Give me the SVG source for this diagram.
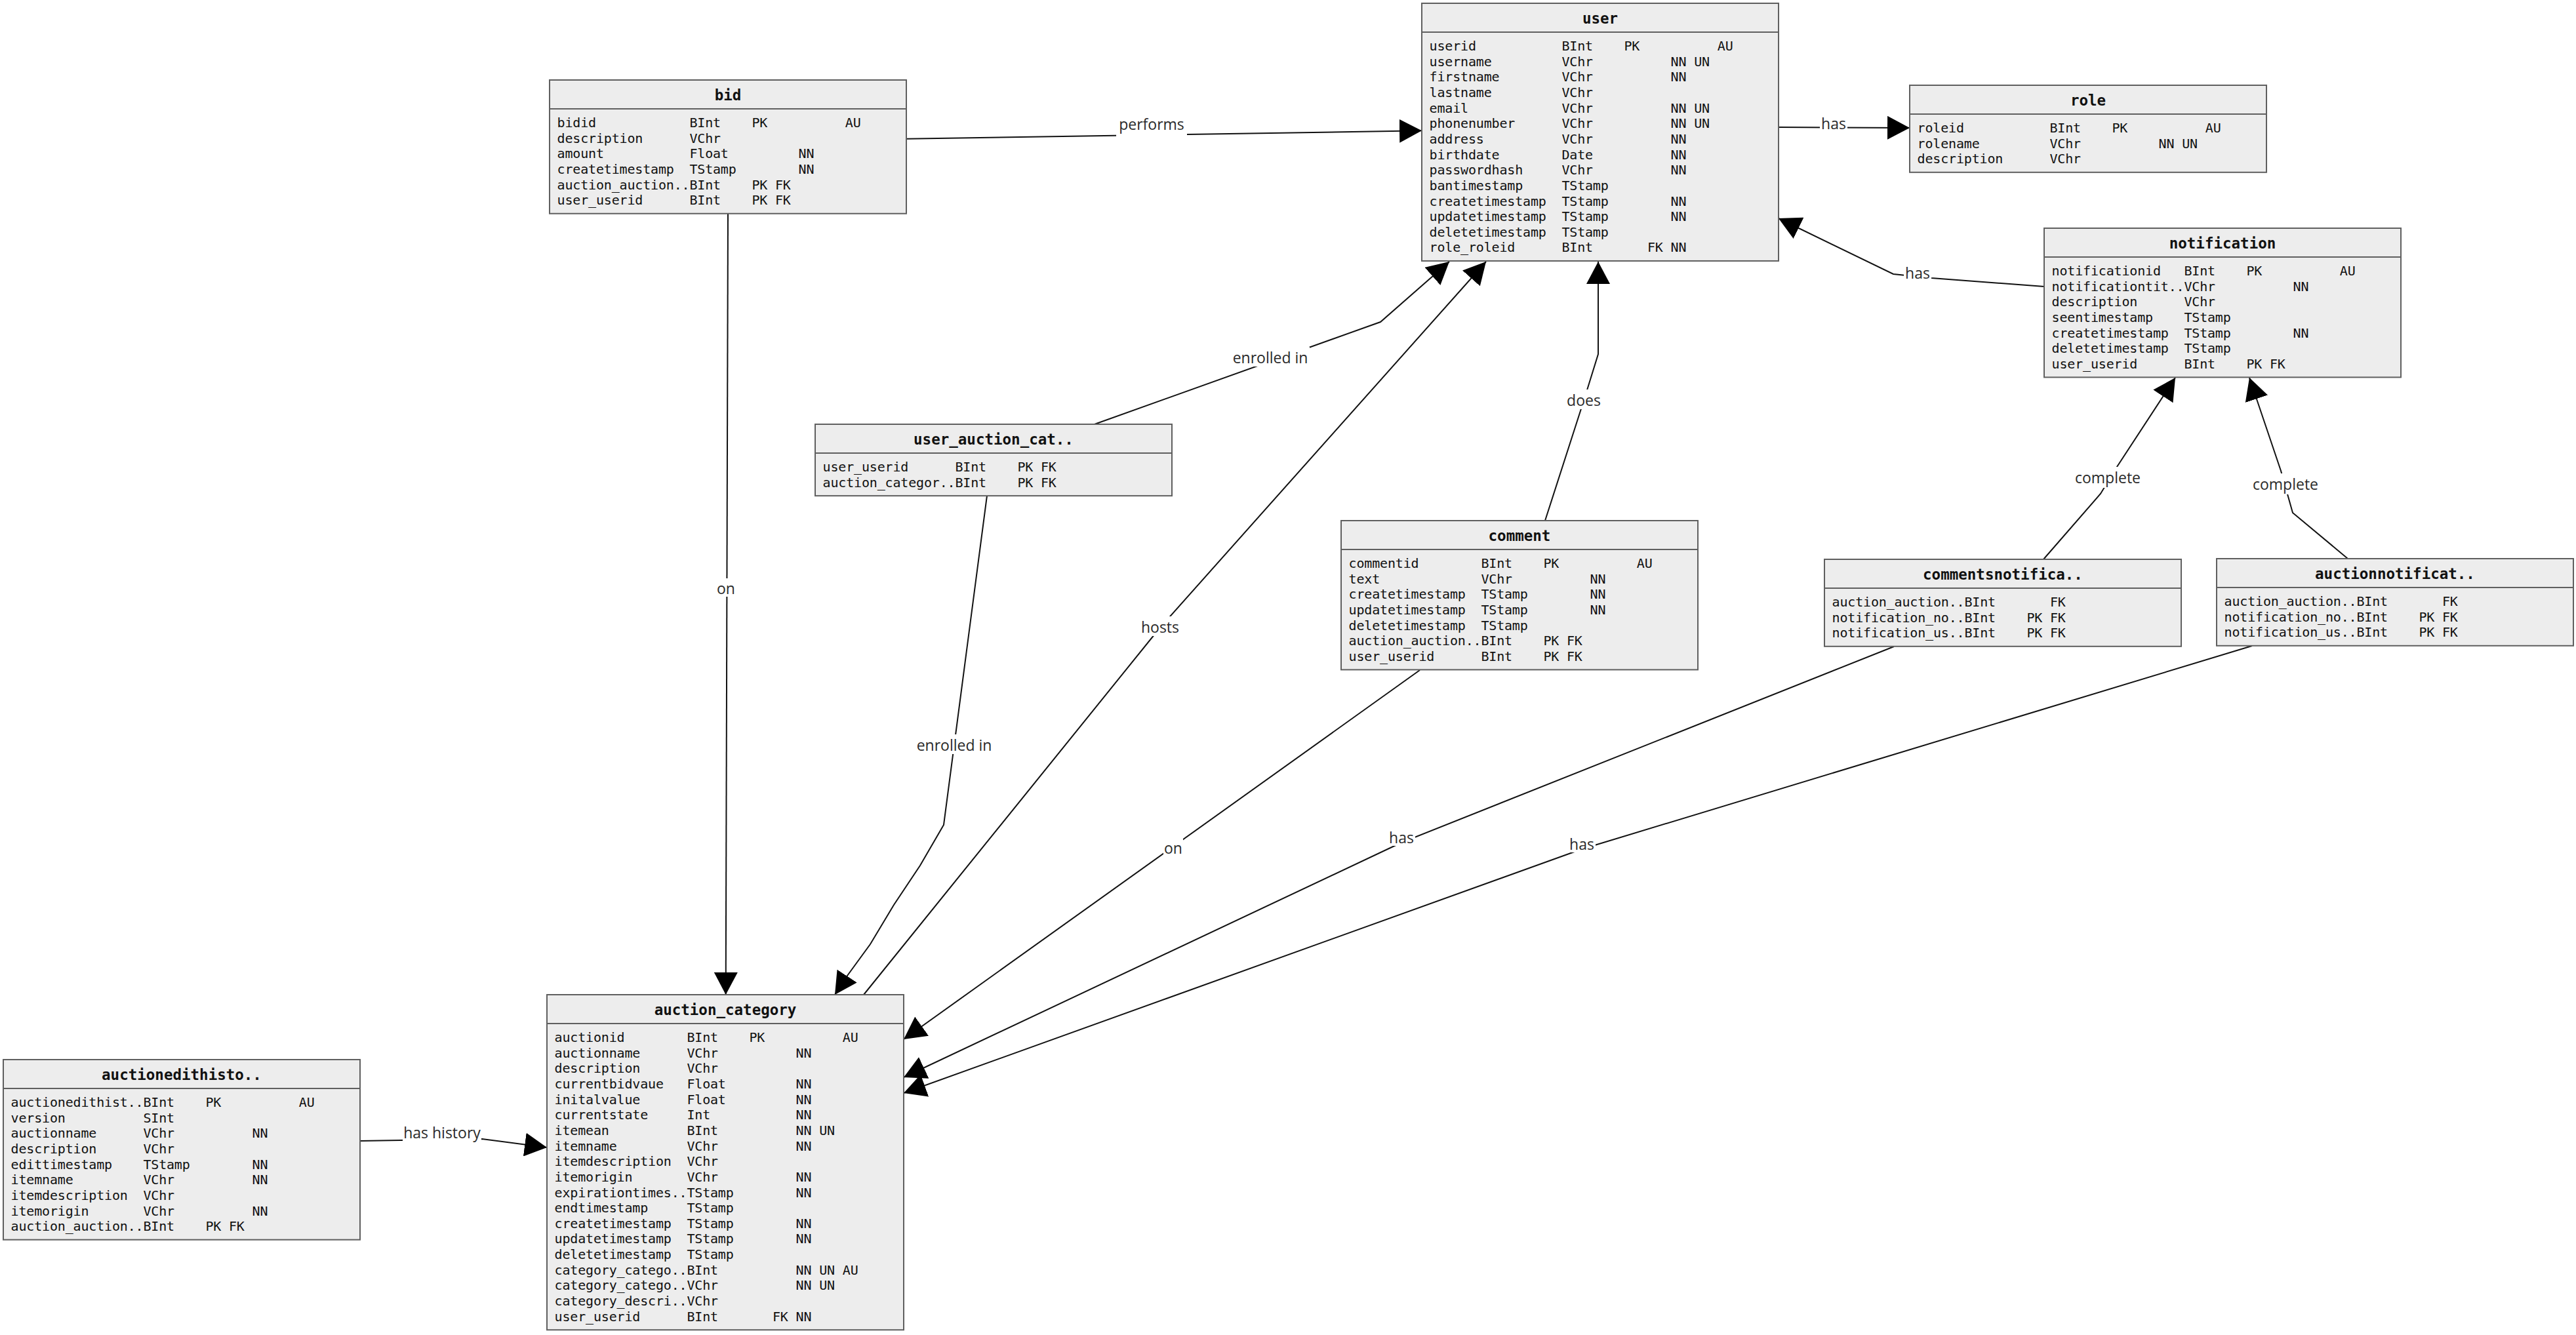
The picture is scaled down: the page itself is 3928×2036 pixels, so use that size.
<svg xmlns="http://www.w3.org/2000/svg" width="3928" height="2036" viewBox="0 0 3928 2036">
<style>
.bg{fill:#fff}
.box{fill:#ededed;stroke:#5f5f5f;stroke-width:2}
.sep{stroke:#5f5f5f;stroke-width:2}
.t{font-family:"DejaVu Sans Mono",monospace;font-weight:bold;font-size:22.5px;text-anchor:middle;fill:#111}
.r{font-family:"DejaVu Sans Mono",monospace;font-size:20px;letter-spacing:-0.17px;fill:#111}
.e{fill:none;stroke:#111;stroke-width:2}
.lb{fill:#fff}
.l{font-family:"Open Sans",sans-serif;font-size:23px;text-anchor:middle;fill:#2a2a2a}
</style>
<defs>
<marker id="ah" viewBox="0 0 34 36" refX="34" refY="18" markerWidth="34" markerHeight="36" markerUnits="userSpaceOnUse" orient="auto"><path d="M0,0 L34,18 L0,36 z" fill="#000"/></marker>
</defs>
<rect class="bg" x="0" y="0" width="3928" height="2036"/>

<g id="connectors">
<g id="e-performs"><path class="e" d="M1382,211.7 L2168,199.3" marker-end="url(#ah)"/><rect class="lb" x="1702" y="174" width="108" height="36"/><text class="l" x="1756" y="198">performs</text></g>
<g id="e-user-role"><path class="e" d="M2712,194 L2912,195" marker-end="url(#ah)"/><rect class="lb" x="2775" y="176" width="42" height="24"/><text class="l" x="2796" y="197">has</text></g>
<g id="e-notif-user"><path class="e" d="M3117,437 L2945,424 L2887,418 L2712,333" marker-end="url(#ah)"/><rect class="lb" x="2903" y="402" width="42" height="26"/><text class="l" x="2924" y="425">has</text></g>
<g id="e-bid-ac"><path class="e" d="M1110,326 L1106.7,1517" marker-end="url(#ah)"/><rect class="lb" x="1092" y="882" width="30" height="28"/><text class="l" x="1107" y="906">on</text></g>
<g id="e-uac-ac"><path class="e" d="M1505,756 L1439,1258 L1403,1320 L1363,1380 L1327,1440 L1292,1488 L1273,1517" marker-end="url(#ah)"/><rect class="lb" x="1395" y="1120" width="120" height="30"/><text class="l" x="1455" y="1145">enrolled in</text></g>
<g id="e-hosts"><path class="e" d="M1317,1517 L1769,957 L2266,399" marker-end="url(#ah)"/><rect class="lb" x="1739" y="940" width="60" height="30"/><text class="l" x="1769" y="965">hosts</text></g>
<g id="e-uac-user"><path class="e" d="M1669,647 L2105,491 L2210,399" marker-end="url(#ah)"/><rect class="lb" x="1877" y="529" width="120" height="30"/><text class="l" x="1937" y="554">enrolled in</text></g>
<g id="e-does"><path class="e" d="M2356,794 L2415,611 L2437,540 L2437,399" marker-end="url(#ah)"/><rect class="lb" x="2388" y="594" width="54" height="30"/><text class="l" x="2415" y="619">does</text></g>
<g id="e-comment-ac"><path class="e" d="M2165,1022 L1378,1585" marker-end="url(#ah)"/><rect class="lb" x="1774" y="1278" width="30" height="28"/><text class="l" x="1789" y="1302">on</text></g>
<g id="e-cn-ac"><path class="e" d="M2888,986 L2137,1285 L1378,1643" marker-end="url(#ah)"/><rect class="lb" x="2116" y="1262" width="42" height="28"/><text class="l" x="2137" y="1286">has</text></g>
<g id="e-an-ac"><path class="e" d="M3434,985 L2412,1295 L1378,1667" marker-end="url(#ah)"/><rect class="lb" x="2391" y="1272" width="42" height="28"/><text class="l" x="2412" y="1296">has</text></g>
<g id="e-cn-notif"><path class="e" d="M3116,853 L3203,753 L3228,712 L3317,576" marker-end="url(#ah)"/><rect class="lb" x="3163" y="712" width="102" height="32"/><text class="l" x="3214" y="737">complete</text></g>
<g id="e-an-notif"><path class="e" d="M3580,852 L3496,782 L3478,718 L3430,576" marker-end="url(#ah)"/><rect class="lb" x="3434" y="722" width="102" height="32"/><text class="l" x="3485" y="747">complete</text></g>
<g id="e-history"><path class="e" d="M549,1740 L735,1737 L834,1750" marker-end="url(#ah)"/><rect class="lb" x="614" y="1712" width="120" height="30"/><text class="l" x="674" y="1736">has history</text></g>
</g>

<g id="bid" transform="translate(838,122)">
<rect class="box" x="0" y="0" width="544" height="203.75"/><line class="sep" x1="0" y1="44" x2="544" y2="44"/>
<text class="t" x="272" y="30.5">bid</text>
<text class="r" y="72"><tspan x="11.6">bidid</tspan><tspan x="213.4">BInt</tspan><tspan x="308.4">PK</tspan><tspan x="450.8">AU</tspan></text>
<text class="r" y="95.65"><tspan x="11.6">description</tspan><tspan x="213.4">VChr</tspan></text>
<text class="r" y="119.3"><tspan x="11.6">amount</tspan><tspan x="213.4">Float</tspan><tspan x="379.6">NN</tspan></text>
<text class="r" y="142.95"><tspan x="11.6">createtimestamp</tspan><tspan x="213.4">TStamp</tspan><tspan x="379.6">NN</tspan></text>
<text class="r" y="166.6"><tspan x="11.6">auction_auction..</tspan><tspan x="213.4">BInt</tspan><tspan x="308.4">PK</tspan><tspan x="344">FK</tspan></text>
<text class="r" y="190.25"><tspan x="11.6">user_userid</tspan><tspan x="213.4">BInt</tspan><tspan x="308.4">PK</tspan><tspan x="344">FK</tspan></text>
</g>

<g id="user" transform="translate(2168,5)">
<rect class="box" x="0" y="0" width="544" height="392.95"/><line class="sep" x1="0" y1="44" x2="544" y2="44"/>
<text class="t" x="272" y="30.5">user</text>
<text class="r" y="72"><tspan x="11.6">userid</tspan><tspan x="213.4">BInt</tspan><tspan x="308.4">PK</tspan><tspan x="450.8">AU</tspan></text>
<text class="r" y="95.65"><tspan x="11.6">username</tspan><tspan x="213.4">VChr</tspan><tspan x="379.6">NN</tspan><tspan x="415.2">UN</tspan></text>
<text class="r" y="119.3"><tspan x="11.6">firstname</tspan><tspan x="213.4">VChr</tspan><tspan x="379.6">NN</tspan></text>
<text class="r" y="142.95"><tspan x="11.6">lastname</tspan><tspan x="213.4">VChr</tspan></text>
<text class="r" y="166.6"><tspan x="11.6">email</tspan><tspan x="213.4">VChr</tspan><tspan x="379.6">NN</tspan><tspan x="415.2">UN</tspan></text>
<text class="r" y="190.25"><tspan x="11.6">phonenumber</tspan><tspan x="213.4">VChr</tspan><tspan x="379.6">NN</tspan><tspan x="415.2">UN</tspan></text>
<text class="r" y="213.9"><tspan x="11.6">address</tspan><tspan x="213.4">VChr</tspan><tspan x="379.6">NN</tspan></text>
<text class="r" y="237.55"><tspan x="11.6">birthdate</tspan><tspan x="213.4">Date</tspan><tspan x="379.6">NN</tspan></text>
<text class="r" y="261.2"><tspan x="11.6">passwordhash</tspan><tspan x="213.4">VChr</tspan><tspan x="379.6">NN</tspan></text>
<text class="r" y="284.85"><tspan x="11.6">bantimestamp</tspan><tspan x="213.4">TStamp</tspan></text>
<text class="r" y="308.5"><tspan x="11.6">createtimestamp</tspan><tspan x="213.4">TStamp</tspan><tspan x="379.6">NN</tspan></text>
<text class="r" y="332.15"><tspan x="11.6">updatetimestamp</tspan><tspan x="213.4">TStamp</tspan><tspan x="379.6">NN</tspan></text>
<text class="r" y="355.8"><tspan x="11.6">deletetimestamp</tspan><tspan x="213.4">TStamp</tspan></text>
<text class="r" y="379.45"><tspan x="11.6">role_roleid</tspan><tspan x="213.4">BInt</tspan><tspan x="344">FK</tspan><tspan x="379.6">NN</tspan></text>
</g>

<g id="role" transform="translate(2912,130)">
<rect class="box" x="0" y="0" width="544" height="132.8"/><line class="sep" x1="0" y1="44" x2="544" y2="44"/>
<text class="t" x="272" y="30.5">role</text>
<text class="r" y="72"><tspan x="11.6">roleid</tspan><tspan x="213.4">BInt</tspan><tspan x="308.4">PK</tspan><tspan x="450.8">AU</tspan></text>
<text class="r" y="95.65"><tspan x="11.6">rolename</tspan><tspan x="213.4">VChr</tspan><tspan x="379.6">NN</tspan><tspan x="415.2">UN</tspan></text>
<text class="r" y="119.3"><tspan x="11.6">description</tspan><tspan x="213.4">VChr</tspan></text>
</g>

<g id="notification" transform="translate(3117,348)">
<rect class="box" x="0" y="0" width="544" height="227.4"/><line class="sep" x1="0" y1="44" x2="544" y2="44"/>
<text class="t" x="272" y="30.5">notification</text>
<text class="r" y="72"><tspan x="11.6">notificationid</tspan><tspan x="213.4">BInt</tspan><tspan x="308.4">PK</tspan><tspan x="450.8">AU</tspan></text>
<text class="r" y="95.65"><tspan x="11.6">notificationtit..</tspan><tspan x="213.4">VChr</tspan><tspan x="379.6">NN</tspan></text>
<text class="r" y="119.3"><tspan x="11.6">description</tspan><tspan x="213.4">VChr</tspan></text>
<text class="r" y="142.95"><tspan x="11.6">seentimestamp</tspan><tspan x="213.4">TStamp</tspan></text>
<text class="r" y="166.6"><tspan x="11.6">createtimestamp</tspan><tspan x="213.4">TStamp</tspan><tspan x="379.6">NN</tspan></text>
<text class="r" y="190.25"><tspan x="11.6">deletetimestamp</tspan><tspan x="213.4">TStamp</tspan></text>
<text class="r" y="213.9"><tspan x="11.6">user_userid</tspan><tspan x="213.4">BInt</tspan><tspan x="308.4">PK</tspan><tspan x="344">FK</tspan></text>
</g>

<g id="user_auction_cat" transform="translate(1243,647)">
<rect class="box" x="0" y="0" width="544" height="109.15"/><line class="sep" x1="0" y1="44" x2="544" y2="44"/>
<text class="t" x="272" y="30.5">user_auction_cat..</text>
<text class="r" y="72"><tspan x="11.6">user_userid</tspan><tspan x="213.4">BInt</tspan><tspan x="308.4">PK</tspan><tspan x="344">FK</tspan></text>
<text class="r" y="95.65"><tspan x="11.6">auction_categor..</tspan><tspan x="213.4">BInt</tspan><tspan x="308.4">PK</tspan><tspan x="344">FK</tspan></text>
</g>

<g id="comment" transform="translate(2045,794)">
<rect class="box" x="0" y="0" width="544" height="227.4"/><line class="sep" x1="0" y1="44" x2="544" y2="44"/>
<text class="t" x="272" y="30.5">comment</text>
<text class="r" y="72"><tspan x="11.6">commentid</tspan><tspan x="213.4">BInt</tspan><tspan x="308.4">PK</tspan><tspan x="450.8">AU</tspan></text>
<text class="r" y="95.65"><tspan x="11.6">text</tspan><tspan x="213.4">VChr</tspan><tspan x="379.6">NN</tspan></text>
<text class="r" y="119.3"><tspan x="11.6">createtimestamp</tspan><tspan x="213.4">TStamp</tspan><tspan x="379.6">NN</tspan></text>
<text class="r" y="142.95"><tspan x="11.6">updatetimestamp</tspan><tspan x="213.4">TStamp</tspan><tspan x="379.6">NN</tspan></text>
<text class="r" y="166.6"><tspan x="11.6">deletetimestamp</tspan><tspan x="213.4">TStamp</tspan></text>
<text class="r" y="190.25"><tspan x="11.6">auction_auction..</tspan><tspan x="213.4">BInt</tspan><tspan x="308.4">PK</tspan><tspan x="344">FK</tspan></text>
<text class="r" y="213.9"><tspan x="11.6">user_userid</tspan><tspan x="213.4">BInt</tspan><tspan x="308.4">PK</tspan><tspan x="344">FK</tspan></text>
</g>

<g id="commentsnotifica" transform="translate(2782,853)">
<rect class="box" x="0" y="0" width="544" height="132.8"/><line class="sep" x1="0" y1="44" x2="544" y2="44"/>
<text class="t" x="272" y="30.5">commentsnotifica..</text>
<text class="r" y="72"><tspan x="11.6">auction_auction..</tspan><tspan x="213.4">BInt</tspan><tspan x="344">FK</tspan></text>
<text class="r" y="95.65"><tspan x="11.6">notification_no..</tspan><tspan x="213.4">BInt</tspan><tspan x="308.4">PK</tspan><tspan x="344">FK</tspan></text>
<text class="r" y="119.3"><tspan x="11.6">notification_us..</tspan><tspan x="213.4">BInt</tspan><tspan x="308.4">PK</tspan><tspan x="344">FK</tspan></text>
</g>

<g id="auctionnotificat" transform="translate(3380,852)">
<rect class="box" x="0" y="0" width="544" height="132.8"/><line class="sep" x1="0" y1="44" x2="544" y2="44"/>
<text class="t" x="272" y="30.5">auctionnotificat..</text>
<text class="r" y="72"><tspan x="11.6">auction_auction..</tspan><tspan x="213.4">BInt</tspan><tspan x="344">FK</tspan></text>
<text class="r" y="95.65"><tspan x="11.6">notification_no..</tspan><tspan x="213.4">BInt</tspan><tspan x="308.4">PK</tspan><tspan x="344">FK</tspan></text>
<text class="r" y="119.3"><tspan x="11.6">notification_us..</tspan><tspan x="213.4">BInt</tspan><tspan x="308.4">PK</tspan><tspan x="344">FK</tspan></text>
</g>

<g id="auction_category" transform="translate(834,1517)">
<rect class="box" x="0" y="0" width="544" height="511.2"/><line class="sep" x1="0" y1="44" x2="544" y2="44"/>
<text class="t" x="272" y="30.5">auction_category</text>
<text class="r" y="72"><tspan x="11.6">auctionid</tspan><tspan x="213.4">BInt</tspan><tspan x="308.4">PK</tspan><tspan x="450.8">AU</tspan></text>
<text class="r" y="95.65"><tspan x="11.6">auctionname</tspan><tspan x="213.4">VChr</tspan><tspan x="379.6">NN</tspan></text>
<text class="r" y="119.3"><tspan x="11.6">description</tspan><tspan x="213.4">VChr</tspan></text>
<text class="r" y="142.95"><tspan x="11.6">currentbidvaue</tspan><tspan x="213.4">Float</tspan><tspan x="379.6">NN</tspan></text>
<text class="r" y="166.6"><tspan x="11.6">initalvalue</tspan><tspan x="213.4">Float</tspan><tspan x="379.6">NN</tspan></text>
<text class="r" y="190.25"><tspan x="11.6">currentstate</tspan><tspan x="213.4">Int</tspan><tspan x="379.6">NN</tspan></text>
<text class="r" y="213.9"><tspan x="11.6">itemean</tspan><tspan x="213.4">BInt</tspan><tspan x="379.6">NN</tspan><tspan x="415.2">UN</tspan></text>
<text class="r" y="237.55"><tspan x="11.6">itemname</tspan><tspan x="213.4">VChr</tspan><tspan x="379.6">NN</tspan></text>
<text class="r" y="261.2"><tspan x="11.6">itemdescription</tspan><tspan x="213.4">VChr</tspan></text>
<text class="r" y="284.85"><tspan x="11.6">itemorigin</tspan><tspan x="213.4">VChr</tspan><tspan x="379.6">NN</tspan></text>
<text class="r" y="308.5"><tspan x="11.6">expirationtimes..</tspan><tspan x="213.4">TStamp</tspan><tspan x="379.6">NN</tspan></text>
<text class="r" y="332.15"><tspan x="11.6">endtimestamp</tspan><tspan x="213.4">TStamp</tspan></text>
<text class="r" y="355.8"><tspan x="11.6">createtimestamp</tspan><tspan x="213.4">TStamp</tspan><tspan x="379.6">NN</tspan></text>
<text class="r" y="379.45"><tspan x="11.6">updatetimestamp</tspan><tspan x="213.4">TStamp</tspan><tspan x="379.6">NN</tspan></text>
<text class="r" y="403.1"><tspan x="11.6">deletetimestamp</tspan><tspan x="213.4">TStamp</tspan></text>
<text class="r" y="426.75"><tspan x="11.6">category_catego..</tspan><tspan x="213.4">BInt</tspan><tspan x="379.6">NN</tspan><tspan x="415.2">UN</tspan><tspan x="450.8">AU</tspan></text>
<text class="r" y="450.4"><tspan x="11.6">category_catego..</tspan><tspan x="213.4">VChr</tspan><tspan x="379.6">NN</tspan><tspan x="415.2">UN</tspan></text>
<text class="r" y="474.05"><tspan x="11.6">category_descri..</tspan><tspan x="213.4">VChr</tspan></text>
<text class="r" y="497.7"><tspan x="11.6">user_userid</tspan><tspan x="213.4">BInt</tspan><tspan x="344">FK</tspan><tspan x="379.6">NN</tspan></text>
</g>

<g id="auctionedithisto" transform="translate(5,1616)">
<rect class="box" x="0" y="0" width="544" height="274.7"/><line class="sep" x1="0" y1="44" x2="544" y2="44"/>
<text class="t" x="272" y="30.5">auctionedithisto..</text>
<text class="r" y="72"><tspan x="11.6">auctionedithist..</tspan><tspan x="213.4">BInt</tspan><tspan x="308.4">PK</tspan><tspan x="450.8">AU</tspan></text>
<text class="r" y="95.65"><tspan x="11.6">version</tspan><tspan x="213.4">SInt</tspan></text>
<text class="r" y="119.3"><tspan x="11.6">auctionname</tspan><tspan x="213.4">VChr</tspan><tspan x="379.6">NN</tspan></text>
<text class="r" y="142.95"><tspan x="11.6">description</tspan><tspan x="213.4">VChr</tspan></text>
<text class="r" y="166.6"><tspan x="11.6">edittimestamp</tspan><tspan x="213.4">TStamp</tspan><tspan x="379.6">NN</tspan></text>
<text class="r" y="190.25"><tspan x="11.6">itemname</tspan><tspan x="213.4">VChr</tspan><tspan x="379.6">NN</tspan></text>
<text class="r" y="213.9"><tspan x="11.6">itemdescription</tspan><tspan x="213.4">VChr</tspan></text>
<text class="r" y="237.55"><tspan x="11.6">itemorigin</tspan><tspan x="213.4">VChr</tspan><tspan x="379.6">NN</tspan></text>
<text class="r" y="261.2"><tspan x="11.6">auction_auction..</tspan><tspan x="213.4">BInt</tspan><tspan x="308.4">PK</tspan><tspan x="344">FK</tspan></text>
</g>
</svg>
